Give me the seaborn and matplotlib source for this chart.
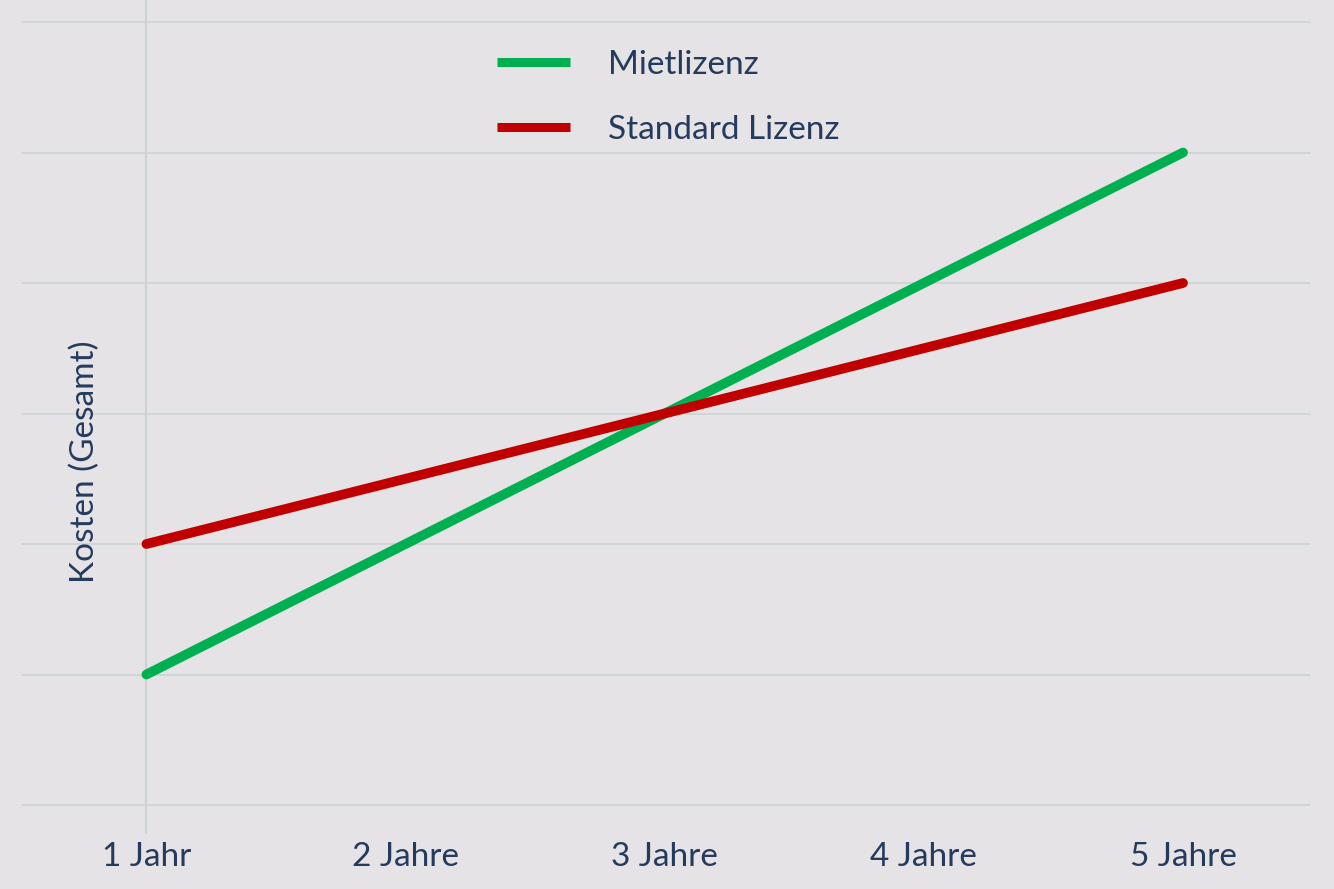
import pandas as pd
import matplotlib.pyplot as plt
import seaborn as sns

# Daten
jahre = ['1 Jahr', '2 Jahre', '3 Jahre', '4 Jahre', '5 Jahre']
mietlizenz = [1, 2, 3, 4, 5]
standard_lizenz = [2, 2.5, 3, 3.5, 4]

df = pd.DataFrame({
    'Jahr': jahre * 2,
    'Kosten': mietlizenz + standard_lizenz,
    'Lizenz': ['Mietlizenz'] * 5 + ['Standard Lizenz'] * 5,
})

bg = '#E5E3E5'
navy = '#253B5E'

sns.set_style('white')
plt.rcParams['font.family'] = ['Lato', 'DejaVu Sans']

fig = plt.figure(figsize=(13.34, 8.89), dpi=100, facecolor=bg)
ax = fig.add_axes([22 / 1334, 1 - 805 / 889, 1288 / 1334, 783 / 889])
ax.set_facecolor(bg)

sns.lineplot(data=df, x='Jahr', y='Kosten', hue='Lizenz',
             palette={'Mietlizenz': '#00B050', 'Standard Lizenz': '#C00000'},
             linewidth=7, solid_capstyle='round', ax=ax, zorder=3)

ax.set_xlim(-0.48, 4.49)
ax.set_ylim(0, 6)
ax.set_yticks(range(7))
ax.set_yticklabels([])
ax.yaxis.grid(True, color='#CCD3D3', linewidth=1.2, zorder=0)
ax.xaxis.grid(False)
for s in ax.spines.values():
    s.set_visible(False)
ax.tick_params(axis='both', length=0)
ax.tick_params(axis='x', labelsize=24, labelcolor=navy, pad=27)
for g in ax.yaxis.get_gridlines():
    g.set_clip_on(False)

# senkrechte Achsenlinie bei 1 Jahr
ax.axvline(0, ymin=-0.036, ymax=1.03, color='#CDD0D0', linewidth=1.5, clip_on=False, zorder=1)

ax.set_xlabel('')
ax.set_ylabel('')
ax.text(0.049, 0.438, 'Kosten (Gesamt)', transform=ax.transAxes, rotation=90,
        ha='center', va='center', fontsize=24, color=navy)

leg = ax.legend(loc='upper left', bbox_to_anchor=(497 / 1334, 1 - 50 / 889),
                bbox_transform=fig.transFigure, frameon=False, fontsize=24,
                handlelength=2.2, handletextpad=1.14, labelspacing=1.05,
                borderpad=0, borderaxespad=0)
for t in leg.get_texts():
    t.set_color(navy)
for h in leg.get_lines():
    h.set_linewidth(6.5)
    h.set_solid_capstyle('butt')

fig.savefig('out.png', dpi=100, facecolor=bg)
